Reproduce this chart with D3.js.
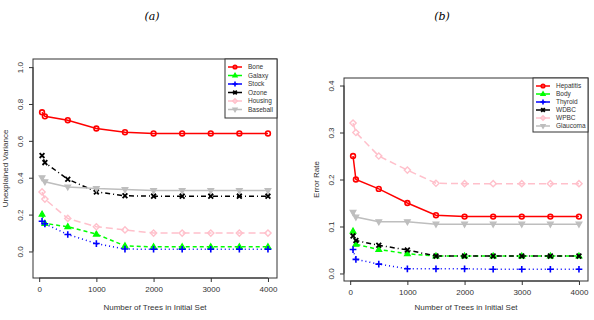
<!DOCTYPE html>
<html>
<head>
<meta charset="utf-8">
<script src="https://cdn.jsdelivr.net/npm/d3@7"></script>
<style>
  body { margin: 0; background: #fff; }
  svg { display: block; font-family: "Liberation Sans", Arial, sans-serif; }
</style>
</head>
<body>
<div id="graphic"></div>
<script>
// x values shared by both panels
const trees = [50, 100, 500, 1000, 1500, 2000, 2500, 3000, 3500, 4000];

// panel (a): unexplained variance
const namesA = ["Bone", "Galaxy", "Stock", "Ozone", "Housing", "Baseball"];
const bone     = [0.755, 0.733, 0.712, 0.667, 0.647, 0.640, 0.640, 0.640, 0.640, 0.640];
const galaxy   = [0.202, 0.152, 0.134, 0.094, 0.030, 0.025, 0.025, 0.025, 0.025, 0.025];
const stock    = [0.164, 0.150, 0.092, 0.043, 0.013, 0.012, 0.012, 0.012, 0.012, 0.012];
const ozone    = [0.520, 0.482, 0.392, 0.323, 0.302, 0.300, 0.300, 0.300, 0.300, 0.300];
const housing  = [0.323, 0.284, 0.179, 0.134, 0.117, 0.100, 0.100, 0.100, 0.100, 0.100];
const baseball = [0.400, 0.378, 0.350, 0.341, 0.336, 0.330, 0.330, 0.330, 0.330, 0.330];

// panel (b): error rate
const namesB = ["Hepatitis", "Body", "Thyroid", "WDBC", "WPBC", "Glaucoma"];
const hepatitis = [0.250, 0.200, 0.180, 0.150, 0.124, 0.121, 0.121, 0.121, 0.121, 0.121];
const body      = [0.090, 0.062, 0.051, 0.042, 0.037, 0.037, 0.037, 0.037, 0.037, 0.037];
const thyroid   = [0.051, 0.030, 0.020, 0.010, 0.010, 0.010, 0.009, 0.009, 0.009, 0.009];
const wdbc      = [0.080, 0.070, 0.060, 0.050, 0.037, 0.037, 0.037, 0.037, 0.037, 0.037];
const wpbc      = [0.320, 0.300, 0.250, 0.220, 0.192, 0.191, 0.191, 0.191, 0.191, 0.191];
const glaucoma  = [0.130, 0.120, 0.110, 0.110, 0.105, 0.105, 0.105, 0.105, 0.105, 0.105];

const xTicks = [0, 1000, 2000, 3000, 4000];
const yTicksA = [0.0, 0.2, 0.4, 0.6, 0.8, 1.0];
const yTicksB = [0.0, 0.1, 0.2, 0.3, 0.4];

// R-like styling per series (pch 1:6, lty 1..5 + solid)
const colours = ["#ff0000", "#00ff00", "#0000ff", "#000000", "#ffc0cb", "#bebebe"];
const dashes = [null, "4,3", "1,3", "1,3,5,3", "7,4", null];
const shapes = ["circle", "triangle", "plus", "cross", "diamond", "down"];

const svg = d3.select('#graphic').append('svg')
  .attr('width', 594).attr('height', 320);

function marker(g, shape, cx, cy, col, s) {
  s = s || 2.4;
  if (shape === "circle") {
    g.append('circle').attr('cx', cx).attr('cy', cy).attr('r', s)
      .attr('fill', 'none').attr('stroke', col).attr('stroke-width', 1.6);
  } else if (shape === "triangle") {
    g.append('path').attr('d', `M${cx},${cy - s * 1.3}L${cx + s * 1.2},${cy + s * 0.8}L${cx - s * 1.2},${cy + s * 0.8}Z`)
      .attr('fill', col).attr('stroke', col).attr('stroke-width', 1.2);
  } else if (shape === "down") {
    g.append('path').attr('d', `M${cx},${cy + s * 1.3}L${cx + s * 1.2},${cy - s * 0.8}L${cx - s * 1.2},${cy - s * 0.8}Z`)
      .attr('fill', col).attr('stroke', col).attr('stroke-width', 1.2);
  } else if (shape === "plus") {
    g.append('path').attr('d', `M${cx - s * 1.4},${cy}H${cx + s * 1.4}M${cx},${cy - s * 1.4}V${cy + s * 1.4}`)
      .attr('stroke', col).attr('stroke-width', 1.6);
  } else if (shape === "cross") {
    g.append('path').attr('d', `M${cx - s},${cy - s}L${cx + s},${cy + s}M${cx - s},${cy + s}L${cx + s},${cy - s}`)
      .attr('stroke', col).attr('stroke-width', 1.8);
  } else if (shape === "diamond") {
    g.append('path').attr('d', `M${cx},${cy - s * 1.3}L${cx + s * 1.3},${cy}L${cx},${cy + s * 1.3}L${cx - s * 1.3},${cy}Z`)
      .attr('fill', 'none').attr('stroke', col).attr('stroke-width', 1.4);
  }
}

function drawPanel(p) {
  const x = d3.scaleLinear().domain([-108, 4158]).range([p.left, p.right]);
  const y = d3.scaleLinear().domain(p.yDomain).range([p.bottom, p.top]);
  const g = svg.append('g');

  // box
  g.append('rect').attr('x', p.left).attr('y', p.top)
    .attr('width', p.right - p.left).attr('height', p.bottom - p.top)
    .attr('fill', 'none').attr('stroke', '#333').attr('stroke-width', 1);

  // x axis
  const xa = g.append('g').attr('transform', `translate(0,${p.bottom})`)
    .call(d3.axisBottom(x).tickValues(xTicks).tickSize(4).tickPadding(4).tickFormat(d3.format('d')));
  xa.select('.domain').attr('d', `M${x(0)},0H${x(4000)}`).attr('stroke', '#333');
  xa.selectAll('.tick line').attr('stroke', '#333');
  xa.selectAll('text').attr('font-size', 8).attr('fill', '#333')
    .attr('font-family', '"Liberation Sans", Arial, sans-serif');

  // y axis with rotated labels
  const ya = g.append('g').attr('transform', `translate(${p.left},0)`)
    .call(d3.axisLeft(y).tickValues(p.yTicks).tickSize(4).tickFormat(d3.format('.1f')));
  ya.select('.domain').attr('d', `M0,${y(p.yTicks[0])}V${y(p.yTicks[p.yTicks.length - 1])}`).attr('stroke', '#333');
  ya.selectAll('.tick line').attr('stroke', '#333');
  ya.selectAll('.tick text')
    .attr('x', null).attr('dy', null)
    .attr('transform', 'translate(-10,0) rotate(-90)')
    .attr('text-anchor', 'middle')
    .attr('font-size', 8).attr('fill', '#333')
    .attr('font-family', '"Liberation Sans", Arial, sans-serif');

  // axis titles
  g.append('text').attr('x', (p.left + p.right) / 2).attr('y', 310)
    .attr('text-anchor', 'middle').attr('font-size', 8).attr('fill', '#333')
    .text('Number of Trees in Initial Set');
  g.append('text')
    .attr('transform', `translate(${p.left - 25.5},${(p.top + p.bottom) / 2}) rotate(-90)`)
    .attr('text-anchor', 'middle').attr('font-size', 8).attr('fill', '#333')
    .text(p.yLabel);

  // panel title
  svg.append('text').attr('x', p.titleX).attr('y', 20)
    .attr('text-anchor', 'middle').attr('font-size', 11)
    .attr('font-family', '"DejaVu Serif", "Liberation Serif", serif').attr('font-style', 'italic')
    .text(p.title);

  // series
  p.series.forEach((vals, i) => {
    const pts = trees.map((t, j) => [t, vals[j]]);
    g.append('path').datum(pts)
      .attr('fill', 'none').attr('stroke', colours[i]).attr('stroke-width', 1.5)
      .attr('stroke-dasharray', dashes[i])
      .attr('d', d3.line().x(d => x(d[0])).y(d => y(d[1])));
    pts.forEach(d => marker(g, shapes[i], x(d[0]), y(d[1]), colours[i]));
  });

  // legend
  const lg = g.append('g');
  lg.append('rect').attr('x', p.leg.x).attr('y', p.leg.y)
    .attr('width', p.leg.w).attr('height', p.leg.h)
    .attr('fill', '#fff').attr('stroke', '#333').attr('stroke-width', 1);
  p.names.forEach((n, i) => {
    const ly = p.leg.y + 8 + i * p.leg.step;
    const lx = p.leg.x + 3;
    lg.append('line').attr('x1', lx).attr('x2', lx + 14).attr('y1', ly).attr('y2', ly)
      .attr('stroke', colours[i]).attr('stroke-width', 1.5);
    marker(lg, shapes[i], lx + 7, ly, colours[i], 1.8);
    lg.append('text').attr('x', lx + 20).attr('y', ly + 2.3)
      .attr('font-size', 6.5).attr('fill', '#333').text(n);
  });
}

drawPanel({
  left: 33, right: 277, top: 59, bottom: 278,
  yDomain: [-0.144, 1.044], yTicks: yTicksA,
  yLabel: 'Unexplained Variance', title: '(a)', titleX: 152,
  series: [bone, galaxy, stock, ozone, housing, baseball], names: namesA,
  leg: { x: 225, y: 59, w: 52, h: 59, step: 8.5 }
});

drawPanel({
  left: 344, right: 588, top: 78, bottom: 281,
  yDomain: [-0.016, 0.416], yTicks: yTicksB,
  yLabel: 'Error Rate', title: '(b)', titleX: 442,
  series: [hepatitis, body, thyroid, wdbc, wpbc, glaucoma], names: namesB,
  leg: { x: 533, y: 78, w: 55, h: 54, step: 8 }
});
</script>
</body>
</html>
